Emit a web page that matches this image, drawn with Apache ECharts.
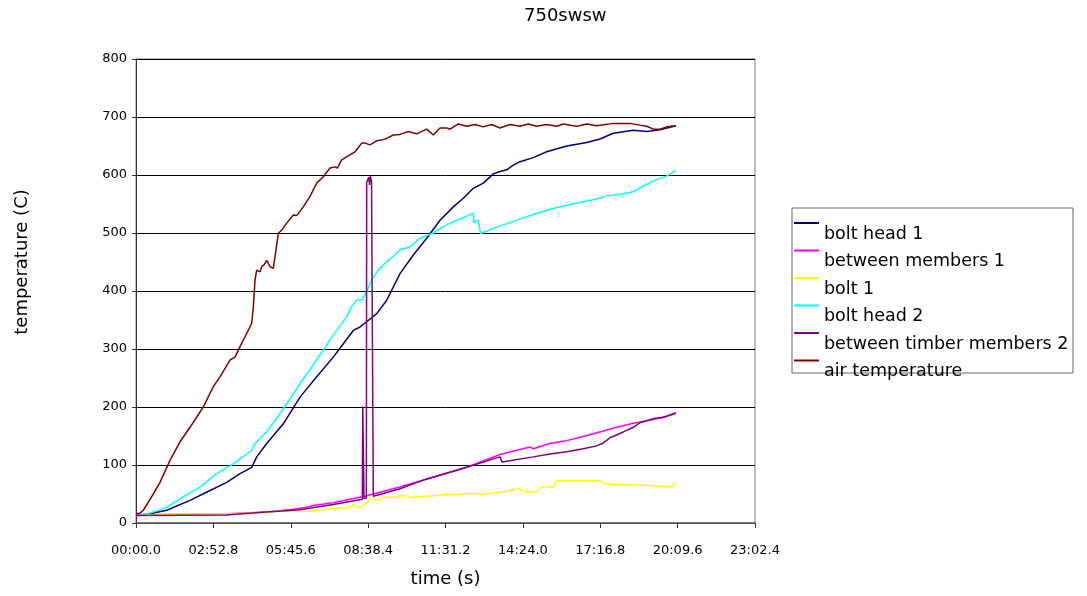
<!DOCTYPE html>
<html><head><meta charset="utf-8">
<script src="https://cdn.jsdelivr.net/npm/echarts@6/dist/echarts.min.js"></script>
<style>html,body{margin:0;padding:0;background:#fff}#c{width:1087px;height:596px}</style>
</head><body><div id="c"></div>
<script>
const chartTitle = '750swsw';
const seriesNames = ['bolt head 1', 'between members 1', 'bolt 1', 'bolt head 2', 'between timber members 2', 'air temperature'];
const seriesColors = ['#000080', '#FF00FF', '#FFFF00', '#00FFFF', '#800080', '#800000'];
const yTicks = [0, 100, 200, 300, 400, 500, 600, 700, 800];
const xTickStep = 172.8; // seconds (02:52.8)
const xMax = 1382.4;     // 23:02.4

// bolt head 1
const bh1Time = [0,31.3,68.6,120.6,165.3,202.6,232.3,258.4,269.6,291.9,329,366.3,403.6,440.6,463,485.3,500.3,515.2,537.6,559.9,589.6,619.3,649.2,678.9,708.6,731,753.3,775.6,798,812.9,827.9,842.6,857.6,887.3,917.2,961.9,1006.6,1036.3,1066,1110.6,1140.6,1170.2,1206];
const bh1Temp = [13,16,22,39,56,70,85,96,114,137,171,217,252,286,309,332,338,347,361,384,430,462,491,522,545,560,577,586,602,606,609,617,623,630,640,650,656,662,672,677,675,678,685];
// between members 1
const bm1Time = [0,100,200,291.9,343.9,381.2,395.9,440.6,515.2,589.6,664,738.6,812.9,879.9,887.3,924.6,961.9,999,1036.3,1073.6,1110.6,1147.9,1185.2,1206];
const bm1Temp = [14,15,16,19,23,27,30,35,47,62,79,96,118,131,128,137,142,149,157,165,172,177,184,189];
// bolt 1
const b1Time = [0,100,200,290,329,381.2,440.6,478,485,500.3,511.4,518.9,522.6,537.6,552.3,567.2,582.2,589.6,604.5,611.9,664,693.9,723.7,738.6,783.3,812.9,857.6,868.8,894.9,906.1,932.1,939.6,1036.3,1047.5,1073.6,1095.9,1133,1136.8,1199.3,1203,1206];
const b1Temp = [13,15,16,18,21,20,25,27,32,27,33,36,45,39,44,45,44,47,47,44,47,49,49,51,50,53,59,54,54,62,62,73,73,68,66,66,65,62,62,69,66];
// bolt head 2
const bh2Time = [0,31.3,68.6,105.6,142.9,180.2,217.3,258.4,265.8,291.9,329,366.3,403.6,440.6,470.6,481.7,492.9,504.1,515.2,526.4,541.1,559.9,582.2,589.6,611.9,634.3,664,686.3,716.2,738.6,753.3,754.9,764.5,769.8,798,842.6,887.3,924.6,961.9,999,1036.3,1051.2,1081,1110.6,1133,1162.9,1185.2,1206];
const bh2Temp = [13,17,27,45,62,85,102,125,137,157,197,240,281,324,355,373,384,384,399,419,436,450,465,471,476,491,500,511,522,529,534,518,522,499,508,520,532,541,548,554,560,564,567,571,581,592,598,608];
// between timber members 2
const bm2Time = [0,200,291.9,366.3,440.6,505.5,506.4,508.5,509.3,514.5,515.2,518,520,521.5,523.5,526,529,530,589.6,649.2,738.6,812.9,817.4,887.3,924.6,961.9,999,1028.9,1043.6,1058.5,1088.3,1110.6,1125.6,1155.3,1177.6,1206];
const bm2Temp = [13,14,19,23,32,41,201,200,42,43,588,585,596,583,598,588,590,46,59,76,96,114,105,114,119,123,128,133,138,147,157,165,173,180,182,190];
// air temperature
const airTime = [0,8.9,16.3,26.8,38.6,53.6,75.9,98.3,120.6,150.3,172.6,187.6,209.9,221.1,232.3,258.4,262,263.5,265.8,269.6,276.9,280.7,285.9,291.9,299.3,306.6,310.4,317.8,325.4,336.6,351.3,358.9,373.6,388.6,403.6,418.3,433.3,444.4,449.6,459.4,474.1,489.1,504.1,511.4,522.6,537.6,552.3,559.9,574.6,589.6,608.1,626.9,649.2,664,678.9,693.9,701.3,719.8,738.6,757.1,775.6,794.4,812.9,835.3,857.6,876.1,894.9,917.2,939.6,954.3,984.2,1006.6,1028.9,1066,1103.3,1125.6,1140.6,1155.3,1170.2,1185.2,1206];
const airTemp = [16,17,22,35,50,70,108,140,165,200,235,252,281,286,304,344,373,390,419,436,433,442,445,453,442,439,459,499,505,517,531,530,545,563,586,597,612,614,612,626,633,640,655,655,652,659,661,663,669,670,675,671,679,669,681,681,679,688,684,687,683,687,681,687,684,688,684,687,684,688,684,688,685,689,689,686,684,679,679,683,685];

const seriesTimes = [bh1Time, bm1Time, b1Time, bh2Time, bm2Time, airTime];
const seriesTemps = [bh1Temp, bm1Temp, b1Temp, bh2Temp, bm2Temp, airTemp];

function fmtTime(v) {
  const t = Math.round(v * 10) / 10;
  const m = Math.floor(t / 60 + 1e-9);
  const s = Math.max(0, t - m * 60);
  return String(m).padStart(2, '0') + ':' + s.toFixed(1).padStart(4, '0');
}

const FONT = 'DejaVu Sans';
const chart = echarts.init(document.getElementById('c'), null, {renderer: 'canvas'});
chart.setOption({
  backgroundColor: '#fff',
  animation: false,
  title: {
    text: chartTitle, left: 524, top: 7, padding: 0,
    textStyle: {fontFamily: FONT, fontSize: 18, fontWeight: 'normal', color: '#000'}
  },
  grid: {left: 136, right: 332, top: 59, bottom: 73, show: true, borderColor: '#808080', borderWidth: 1, backgroundColor: 'transparent'},
  xAxis: {
    type: 'value', min: 0, max: xMax, interval: xTickStep,
    name: 'time (s)', nameLocation: 'middle', nameGap: 47,
    nameTextStyle: {fontFamily: FONT, fontSize: 18, color: '#000'},
    axisLine: {show: true, lineStyle: {color: '#666', width: 1.5}},
    axisTick: {show: true, length: 5, lineStyle: {color: '#333'}},
    axisLabel: {formatter: fmtTime, margin: 21, fontFamily: FONT, fontSize: 13, color: '#000', showMaxLabel: true, showMinLabel: true},
    splitLine: {show: false}
  },
  yAxis: {
    type: 'value', min: yTicks[0], max: yTicks[yTicks.length - 1], interval: yTicks[1] - yTicks[0],
    axisLine: {show: true, lineStyle: {color: '#333', width: 1}},
    axisTick: {show: true, length: 4, lineStyle: {color: '#333'}},
    axisLabel: {margin: 9, fontFamily: FONT, fontSize: 13, color: '#000'},
    splitLine: {show: true, lineStyle: {color: '#000', width: 1}}
  },
  legend: {
    data: seriesNames, orient: 'vertical', left: 793, top: 201, padding: 0,
    itemWidth: 25, itemHeight: 2, itemGap: -16.5, selectedMode: false,
    formatter: name => '\n' + name,
    textStyle: {fontFamily: FONT, fontSize: 17.5, color: '#000', lineHeight: 22}
  },
  graphic: [
    {type: 'rect', shape: {x: 792, y: 208, width: 281, height: 165}, style: {fill: 'none', stroke: '#666', lineWidth: 1}, silent: true},
    {type: 'text', x: 22, y: 262, rotation: Math.PI / 2, style: {text: 'temperature (C)', fontFamily: FONT, fontSize: 18, fill: '#000', align: 'center', verticalAlign: 'middle'}}
  ],
  series: seriesNames.map((name, i) => ({
    name: name, type: 'line', symbol: 'none', showSymbol: false,
    color: seriesColors[i],
    lineStyle: {color: seriesColors[i], width: 1.5},
    data: seriesTimes[i].map((t, k) => [t, seriesTemps[i][k]])
  }))
});
</script>
</body></html>
